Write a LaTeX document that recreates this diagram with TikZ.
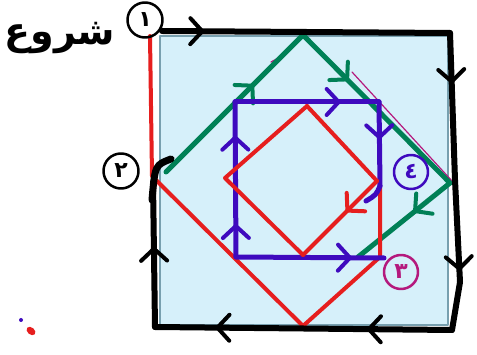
\documentclass[tikz,border=0pt]{standalone}
\usepackage{fontspec}
\TeXXeTstate=1
\newfontfamily\arabicfont[Script=Arabic]{DejaVu Sans}
\usetikzlibrary{decorations.markings}
\definecolor{rd}{RGB}{230,30,30}
\definecolor{bl}{RGB}{62,10,190}
\definecolor{gr}{RGB}{0,128,86}
\definecolor{mg}{RGB}{180,25,125}
\definecolor{sky}{RGB}{214,240,250}
\definecolor{skyedge}{RGB}{120,160,175}
\begin{document}
\begin{tikzpicture}[x=1pt,y=-1pt,line cap=round,line join=round,
  chev/.style={postaction={decorate,decoration={markings,
     mark=at position #1 with {\draw[line width=4pt,line cap=round,line join=round] (-12pt,-13pt) -- (0pt,0pt) -- (-12pt,13pt);}}}},
  blk/.style={draw=black,line width=6pt},
  redl/.style={draw=rd,line width=4pt},
  bluel/.style={draw=bl,line width=5pt},
  greenl/.style={draw=gr,line width=5pt},
  num/.style={draw,circle,line width=2.5pt,minimum width=35pt,inner sep=0pt,font=\arabicfont\fontsize{22}{24}\selectfont\bfseries}]
\useasboundingbox (0,0) rectangle (477,355);
\fill[white] (0,0) rectangle (477,355);
% light blue square
\filldraw[fill=sky,draw=skyedge,line width=2pt] (160,36) rectangle (448,325);
% coordinates
\coordinate (kTL) at (162,31);
\coordinate (kTR) at (450,33);
\coordinate (kR1) at (455,180);
\coordinate (kR2) at (460,282);
\coordinate (kBR) at (452,330);
\coordinate (kBL) at (155,327);
\coordinate (kL) at (153,182);
% green
\coordinate (gL) at (166,172);
\coordinate (gT) at (303,35);
\coordinate (gR) at (450,183);
\coordinate (gE) at (358,257);
% magenta thin
\coordinate (mA) at (352,72);
\coordinate (mB) at (452,181);
\draw[mg,line width=1.2pt] (mA) -- (mB);
\draw[mg,line width=1.2pt] (271,62) -- (282,56);
\draw[greenl,chev=0.63] (gL) -- (gT);
\draw[greenl,chev=0.3] (gT) -- (gR);
\draw[greenl,chev=0.38] (gR) -- (gE);
% red outer
\coordinate (rS) at (150,36);
\coordinate (rL) at (152,176);
\coordinate (rL2) at (162,186);
\coordinate (rB) at (303,326);
\coordinate (rBR) at (380,257);
\coordinate (rRT) at (380,187);
\draw[redl] (rS) -- (rL) -- (rL2) -- (rB) -- (rBR) -- (rRT);
% blue square
\coordinate (uE) at (366,201);
\coordinate (uR) at (380,186);
\coordinate (uTR) at (379,102);
\coordinate (uTL) at (235,102);
\coordinate (uBL) at (236,257);
\coordinate (uBR) at (384,258);
\draw[bluel] (uE) .. controls (376,195) .. (uR);
\draw[bluel,chev=0.42] (uTR) -- (uR);
\draw[bluel,chev=0.72] (uTL) -- (uTR);
\draw[bluel,chev=0.2,chev=0.77] (uBL) -- (uTL);
\draw[bluel,chev=0.77] (uBL) -- (uBR);
% red inner diamond
\coordinate (dT) at (307,106);
\coordinate (dR) at (377,181);
\coordinate (dB) at (303,255);
\coordinate (dL) at (225,178);
\draw[redl] (dT) -- (dR);
\draw[redl,chev=0.4] (dR) -- (dB);
\draw[redl] (dB) -- (dL) -- (dT);
% black outer path
\draw[blk,chev=0.14] (kTL) -- (kTR);
\draw[blk,chev=0.33] (kTR) -- (kR1);
\draw[blk,chev=0.87] (kR1) -- (kR2);
\draw[blk] (kR2) -- (kBR);
\draw[blk,chev=0.28,chev=0.79] (kBR) -- (kBL);
\draw[blk,chev=0.54] (kBL) -- (kL);
\draw[black,line width=7pt] (171,159) .. controls (155,165) .. (152,200);
% numbered circles
\node[num,draw=black,text=black] (c1) at (145,20) {١};
\node[num,draw=black,text=black] (c2) at (121,171) {٢};
\node[num,draw=bl,text=bl,minimum width=34pt] (c4) at (411,172) {٤};
\node[num,draw=mg,text=mg,minimum width=34pt] (c3) at (401,272) {٣};
% title
\node[font=\arabicfont\fontsize{38}{42}\selectfont\bfseries] (title) at (60,38) {\beginR شروع\endR};
% dots
\fill[bl] (21,320) circle (2pt);
\fill[rd,rotate around={-40:(31,331)}] (31,331) ellipse (5pt and 3.5pt);
\end{tikzpicture}
\end{document}
